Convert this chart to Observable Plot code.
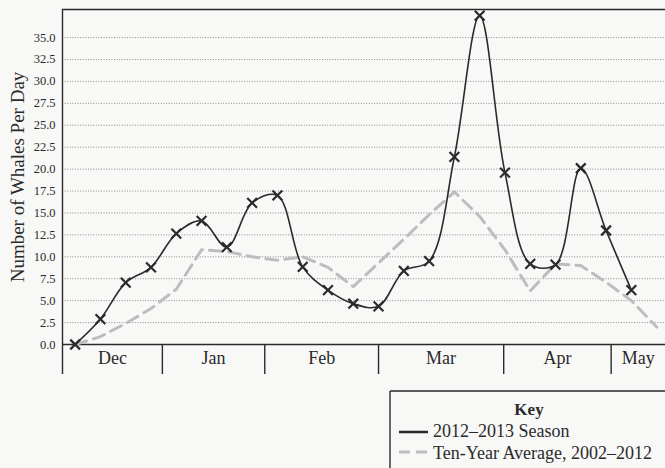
<!DOCTYPE html>
<html>
<head>
<meta charset="utf-8">
<script src="https://cdn.jsdelivr.net/npm/d3@7"></script>
<script src="https://cdn.jsdelivr.net/npm/@observablehq/plot@0.6"></script>
<style>
  html, body { margin: 0; padding: 0; background: #f8f8f7; }
  body { width: 665px; height: 468px; overflow: hidden; font-family: "Liberation Serif", "DejaVu Serif", serif; }
  #chart svg, #key svg { display: block; }
  #chart svg, #chart svg text { font-family: "Liberation Serif", "DejaVu Serif", serif !important; }
</style>
</head>
<body>
<div id="chart"></div>
<div id="key"></div>
<script>
// Week index along the season (one point per week)
const seasonWeeks = [0,1,2,3,4,5,6,7,8,9,10,11,12,13,14,15,16,17,18,19,20,21,22];
const seasonValues = [0, 2.9, 7.05, 8.8, 12.65, 14.1, 11.1, 16.15, 17.0, 8.85, 6.2, 4.65, 4.35, 8.4, 9.5, 21.4, 37.5, 19.6, 9.2, 9.1, 20.1, 13.0, 6.2];

const averageWeeks = [0,1,2,3,4,5,6,7,8,9,10,11,12,13,14,15,16,17,18,19,20,21,22,23];
const averageValues = [0, 0.9, 2.4, 4.1, 6.3, 10.8, 10.6, 10.0, 9.6, 10.0, 8.8, 6.6, 9.3, 12.0, 14.8, 17.4, 14.6, 10.8, 6.1, 9.2, 9.0, 7.1, 5.0, 2.0];

const months = ["Dec", "Jan", "Feb", "Mar", "Apr", "May"];
const monthStarts = [-0.5, 3.45, 7.5, 12.0, 16.95, 21.2];
const monthEnds = [3.45, 7.5, 12.0, 16.95, 21.2, 23.35];

const yTicks = [0, 2.5, 5, 7.5, 10, 12.5, 15, 17.5, 20, 22.5, 25, 27.5, 30, 32.5, 35];
const gridTicks = [2.5, 5, 7.5, 10, 12.5, 15, 17.5, 20, 22.5, 25, 27.5, 30, 32.5, 35];
const yTop = 38.2;

const yLabel = "Number of Whales Per Day";
const seriesNames = ["2012\u20132013 Season", "Ten-Year Average, 2002\u20132012"];

const season = seasonWeeks.map((w, i) => ({week: w, value: seasonValues[i]}));
const average = averageWeeks.map((w, i) => ({week: w, value: averageValues[i]}));
const monthRows = months.map((m, i) => ({name: m, mid: (monthStarts[i] + monthEnds[i]) / 2}));

const ink = "#2a2a2a";
const serif = "Liberation Serif";

const chart = Plot.plot({
  width: 665,
  height: 380,
  marginTop: 9,
  marginBottom: 36,
  marginLeft: 62,
  marginRight: 0,
  style: {background: "transparent", fontFamily: serif, color: ink},
  x: {domain: [-0.5, 23.35]},
  y: {domain: [0, yTop]},
  marks: [
    Plot.ruleY(gridTicks, {stroke: "#8a8a8a", strokeWidth: 1, strokeDasharray: "1,1.6"}),
    Plot.ruleY([yTop], {stroke: ink, strokeWidth: 1.4}),
    Plot.ruleX([monthStarts[0]], {stroke: ink, strokeWidth: 1.4}),
    Plot.ruleY([0], {stroke: ink, strokeWidth: 1.4}),
    Plot.axisY(yTicks, {
      tickSize: 0, tickPadding: 7, fontSize: 12.5, fontFamily: serif, label: null,
      tickFormat: d => d.toFixed(1)
    }),
    Plot.axisX(monthStarts, {tickSize: 30, stroke: ink, strokeWidth: 1.4, tickFormat: () => "", label: null}),
    Plot.text(monthRows, {x: "mid", text: "name", frameAnchor: "bottom", dy: 19, fontSize: 18, fontFamily: serif, fill: ink}),
    Plot.text([yLabel], {text: d => d, frameAnchor: "left", textAnchor: "middle", rotate: -90, dx: -45, fontSize: 19, fontFamily: serif, fill: ink}),
    Plot.line(average, {x: "week", y: "value", curve: "linear", stroke: "#bdbdbd", strokeWidth: 3, strokeDasharray: "12,7"}),
    Plot.line(season, {x: "week", y: "value", curve: "catmull-rom", stroke: ink, strokeWidth: 1.6}),
    Plot.dot(season, {x: "week", y: "value", symbol: "times", r: 4.5, stroke: ink, strokeWidth: 2.2})
  ]
});
document.getElementById("chart").appendChild(chart);

// Key box below the chart
const key = d3.select("#key").append("svg").attr("width", 665).attr("height", 88);
key.append("line").attr("x1", 390).attr("x2", 665).attr("y1", 11).attr("y2", 11).attr("stroke", ink).attr("stroke-width", 1.4);
key.append("line").attr("x1", 390).attr("x2", 390).attr("y1", 11).attr("y2", 88).attr("stroke", ink).attr("stroke-width", 1.4);
key.append("text").attr("x", 529).attr("y", 35).attr("text-anchor", "middle")
  .attr("font-family", "'Liberation Serif', serif").attr("font-weight", "bold").attr("font-size", 17).attr("fill", ink).text("Key");
key.append("line").attr("x1", 399).attr("x2", 428).attr("y1", 52).attr("y2", 52).attr("stroke", ink).attr("stroke-width", 2.5);
key.append("line").attr("x1", 399).attr("x2", 428).attr("y1", 72).attr("y2", 72).attr("stroke", "#bdbdbd").attr("stroke-width", 3).attr("stroke-dasharray", "11,6");
key.selectAll("text.entry").data(seriesNames).join("text").attr("class", "entry")
  .attr("x", 433).attr("y", (d, i) => 57 + i * 22)
  .attr("font-family", "'Liberation Serif', serif").attr("font-size", 18).attr("fill", ink).text(d => d);
</script>
</body>
</html>
